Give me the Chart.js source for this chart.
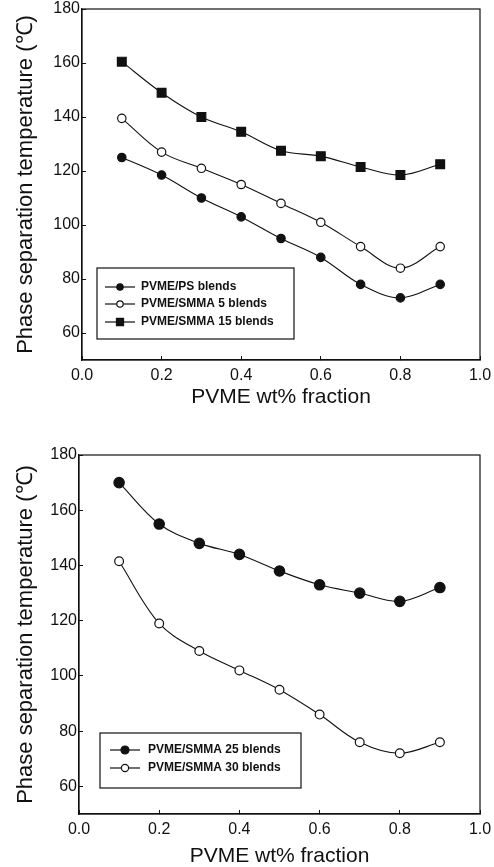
<!DOCTYPE html>
<html>
<head>
<meta charset="utf-8">
<script src="https://cdn.jsdelivr.net/npm/chart.js@4"></script>
<style>
  body { margin: 0; background: #fff; }
  canvas { display: block; }
</style>
</head>
<body>
<canvas id="topChart" width="494" height="430"></canvas>
<canvas id="bottomChart" width="494" height="437"></canvas>
<script>
// -------------------- Data --------------------
const fractions = [0.1, 0.2, 0.3, 0.4, 0.5, 0.6, 0.7, 0.8, 0.9];

// top panel
const psBlends     = [125, 118.5, 110, 103, 95, 88, 78, 73, 78];
const smma5Blends  = [139.5, 127, 121, 115, 108, 101, 92, 84, 92];
const smma15Blends = [160.5, 149, 140, 134.5, 127.5, 125.5, 121.5, 118.5, 122.5];

// bottom panel
const smma25Blends = [170, 155, 148, 144, 138, 133, 130, 127, 132];
const smma30Blends = [141.5, 119, 109, 102, 95, 86, 76, 72, 76];

const xTicks = [0.0, 0.2, 0.4, 0.6, 0.8, 1.0];
const yTicks = [60, 80, 100, 120, 140, 160, 180];

const xTitle = "PVME wt% fraction";
const yTitle = "Phase separation temperature (\u2103)";

// -------------------- Helpers --------------------
const FONT = "'Liberation Sans', Arial, sans-serif";
const INK = "#111";

function points(values) {
  return fractions.map((x, i) => ({ x: x, y: values[i] }));
}

function series(label, values, style, radius, filled) {
  return {
    label: label,
    data: points(values),
    borderColor: INK,
    borderWidth: 1.1,
    pointStyle: style,
    pointRadius: radius,
    pointHoverRadius: radius,
    pointBorderWidth: 1.2,
    pointBorderColor: INK,
    pointBackgroundColor: filled ? INK : "#fff",
    tension: 0.35,
    fill: false
  };
}

// full frame round the plot area
const framePlugin = {
  id: "frame",
  afterDraw(chart) {
    const a = chart.chartArea, ctx = chart.ctx;
    ctx.save();
    ctx.strokeStyle = INK;
    ctx.lineWidth = 1.2;
    ctx.strokeRect(a.left, a.top, a.right - a.left, a.bottom - a.top);
    ctx.restore();
  }
};

// boxed legend inside the plot
const boxLegendPlugin = {
  id: "boxLegend",
  afterDraw(chart, args, opts) {
    const a = chart.chartArea, ctx = chart.ctx;
    const x0 = a.left + opts.x, y0 = a.top + opts.y;
    ctx.save();
    ctx.fillStyle = "#fff";
    ctx.fillRect(x0, y0, opts.w, opts.h);
    ctx.strokeStyle = INK;
    ctx.lineWidth = 1.2;
    ctx.strokeRect(x0, y0, opts.w, opts.h);
    chart.data.datasets.forEach((ds, i) => {
      const ry = y0 + opts.rows[i];
      const lx = x0 + opts.lineX;
      ctx.strokeStyle = INK;
      ctx.lineWidth = 1.2;
      ctx.beginPath();
      ctx.moveTo(lx, ry);
      ctx.lineTo(lx + opts.lineW, ry);
      ctx.stroke();
      ctx.fillStyle = ds.pointBackgroundColor;
      ctx.strokeStyle = INK;
      Chart.helpers.drawPoint(ctx, {
        pointStyle: ds.pointStyle,
        radius: opts.markerRadius[i],
        borderWidth: 1.2,
        rotation: 0
      }, lx + opts.lineW / 2, ry);
      ctx.fillStyle = INK;
      ctx.font = "bold 12px " + FONT;
      ctx.textBaseline = "middle";
      ctx.textAlign = "left";
      ctx.fillText(ds.label, x0 + opts.textX, ry);
    });
    ctx.restore();
  }
};

function makeOptions(pad, yWidth, xHeight, xTitlePad, legend) {
  return {
    responsive: false,
    animation: false,
    layout: { padding: pad },
    plugins: {
      legend: { display: false },
      tooltip: { enabled: false },
      boxLegend: legend
    },
    scales: {
      x: {
        type: "linear",
        min: 0,
        max: 1,
        afterBuildTicks: (s) => { s.ticks = xTicks.map(v => ({ value: v })); },
        afterFit: (s) => { s.height = xHeight; s.paddingLeft = 0; s.paddingRight = 0; },
        border: { display: true, color: INK, width: 1.2 },
        grid: { drawOnChartArea: false, drawTicks: true, tickLength: -4, color: INK },
        ticks: {
          color: INK,
          padding: 10,
          maxRotation: 0,
          font: { family: FONT, size: 16 },
          callback: (v) => v.toFixed(1)
        },
        title: {
          display: true,
          text: xTitle,
          color: INK,
          font: { family: FONT, size: 21 },
          padding: { top: 0, bottom: xTitlePad }
        }
      },
      y: {
        type: "linear",
        min: 50,
        max: 180,
        afterBuildTicks: (s) => { s.ticks = yTicks.map(v => ({ value: v })); },
        afterFit: (s) => { s.width = yWidth; s.paddingTop = 0; s.paddingBottom = 0; },
        border: { display: true, color: INK, width: 1.2 },
        grid: { drawOnChartArea: false, drawTicks: true, tickLength: -4, color: INK },
        ticks: {
          color: INK,
          padding: 6,
          font: { family: FONT, size: 16 }
        },
        title: {
          display: true,
          text: yTitle,
          color: INK,
          font: { family: FONT, size: 22 },
          padding: { top: 13, bottom: 0 }
        }
      }
    }
  };
}

// -------------------- Top chart --------------------
new Chart(document.getElementById("topChart"), {
  type: "line",
  data: {
    datasets: [
      series("PVME/PS blends", psBlends, "circle", 4.2, true),
      series("PVME/SMMA 5 blends", smma5Blends, "circle", 4.2, false),
      series("PVME/SMMA 15 blends", smma15Blends, "rect", 6.2, true)
    ]
  },
  options: makeOptions({ top: 9, right: 14, left: 0, bottom: 0 }, 82, 70, 20, {
    x: 15, y: 259, w: 197, h: 71,
    rows: [19, 36, 54],
    lineX: 8, lineW: 30, textX: 44,
    markerRadius: [3.2, 3.2, 5]
  }),
  plugins: [framePlugin, boxLegendPlugin]
});

// -------------------- Bottom chart --------------------
new Chart(document.getElementById("bottomChart"), {
  type: "line",
  data: {
    datasets: [
      series("PVME/SMMA 25 blends", smma25Blends, "circle", 5.2, true),
      series("PVME/SMMA 30 blends", smma30Blends, "circle", 4.4, false)
    ]
  },
  options: makeOptions({ top: 25, right: 14, left: 0, bottom: 0 }, 79, 53, -2, {
    x: 21, y: 278, w: 201, h: 55,
    rows: [17, 35],
    lineX: 10, lineW: 30, textX: 48,
    markerRadius: [4, 3.6]
  }),
  plugins: [framePlugin, boxLegendPlugin]
});
</script>
</body>
</html>
